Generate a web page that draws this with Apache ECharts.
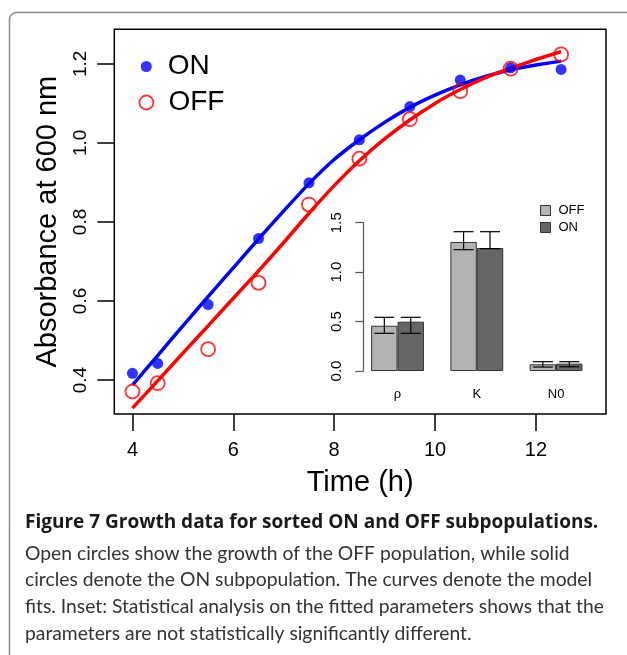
<!DOCTYPE html>
<html>
<head>
<meta charset="utf-8">
<script src="https://cdn.jsdelivr.net/npm/echarts@6/dist/echarts.min.js"></script>
<style>
  html, body { margin: 0; padding: 0; background: #fff; }
  #chart { width: 627px; height: 655px; }
</style>
</head>
<body>
<div id="chart"></div>
<script>
// growth data (absorbance at 600 nm)
const timePoints = [4, 4.5, 5.5, 6.5, 7.5, 8.5, 9.5, 10.5, 11.5, 12.5];
const onValues = [0.417, 0.442, 0.591, 0.758, 0.899, 1.008, 1.092, 1.159, 1.190, 1.186];
const offValues = [0.371, 0.392, 0.478, 0.646, 0.844, 0.960, 1.060, 1.131, 1.188, 1.224];

// model fit curves
const fitTimes = [4, 4.5, 5, 5.5, 6, 6.5, 7, 7.5, 8, 8.5, 9, 9.5, 10, 10.5, 11, 11.5, 12, 12.5];
const onFit = [0.387, 0.462, 0.537, 0.611, 0.684, 0.757, 0.828, 0.897, 0.958, 1.008, 1.052, 1.090, 1.121, 1.147, 1.168, 1.185, 1.197, 1.207];
const offFit = [0.329, 0.398, 0.468, 0.537, 0.607, 0.676, 0.748, 0.822, 0.892, 0.955, 1.010, 1.058, 1.100, 1.135, 1.165, 1.189, 1.211, 1.231];

const xTicks = [4, 6, 8, 10, 12];
const yTicks = [0.4, 0.6, 0.8, 1.0, 1.2];

// inset: fitted parameters
const params = ['ρ', 'K', 'N0'];
const offParam = [0.458, 1.305, 0.068];
const onParam = [0.499, 1.244, 0.074];
const offLow = [0.381, 1.227, 0.040];
const offHigh = [0.543, 1.409, 0.094];
const onLow = [0.381, 1.237, 0.043];
const onHigh = [0.543, 1.409, 0.094];

const captionTitle = 'Figure 7 Growth data for sorted ON and OFF subpopulations.';
const captionLines = [
  'Open circles show the growth of the OFF population, while solid',
  'circles denote the ON subpopulation. The curves denote the model',
  'fits. Inset: Statistical analysis on the fitted parameters shows that the',
  'parameters are not statistically significantly different.'
];

const FONT = 'Liberation Sans, Arial, sans-serif';
const chart = echarts.init(document.getElementById('chart'));

const errorBar = (shift) => (params, api) => {
  const c = api.value(0);
  const lo = api.coord([c, api.value(1)]);
  const hi = api.coord([c, api.value(2)]);
  const band = api.size([1, 0])[0];
  const x = lo[0] + shift * band / 6;
  const w = 10;
  const style = {stroke: '#000', lineWidth: 1.2};
  return {
    type: 'group',
    children: [
      {type: 'line', shape: {x1: x, y1: lo[1], x2: x, y2: hi[1]}, style},
      {type: 'line', shape: {x1: x - w, y1: lo[1], x2: x + w, y2: lo[1]}, style},
      {type: 'line', shape: {x1: x - w, y1: hi[1], x2: x + w, y2: hi[1]}, style},
    ]
  };
};

const graphics = [
  {
    type: 'rect', z: -10, silent: true,
    shape: {x: 9.5, y: 12.5, width: 700, height: 700, r: 7},
    style: {fill: 'none', stroke: '#8c8c8c', lineWidth: 1.5}
  },
  {
    type: 'text', left: 25, top: 513,
    style: {text: captionTitle, font: 'bold 19px "Open Sans", sans-serif', fill: '#1a1a1a'}
  }
];
captionLines.forEach((line, i) => {
  graphics.push({
    type: 'text', left: 25, top: 544 + i * 26.7,
    style: {text: line, font: '19.3px Lato, sans-serif', fill: '#333'}
  });
});

chart.setOption({
  animation: false,
  textStyle: {fontFamily: FONT},
  graphic: graphics,
  grid: [
    {left: 114.3, top: 29.3, right: 21, bottom: 241, show: true, borderColor: '#000', borderWidth: 1.5},
    {left: 357.9, top: 222.7, width: 237.8, height: 148.3}
  ],
  legend: [
    {
      data: [{name: 'ON', icon: 'circle', itemStyle: {color: '#0000ff'}}],
      left: 135.8, top: 46.5, orient: 'vertical',
      itemWidth: 11, itemHeight: 11, selectedMode: false,
      textStyle: {fontSize: 28, color: '#000', padding: [0, 0, 0, 11], lineHeight: 30}
    },
    {
      data: [{name: 'OFF', icon: 'circle', itemStyle: {color: 'rgba(0,0,0,0)', borderColor: '#ff0000', borderWidth: 1.8}}],
      left: 133.5, top: 82.5, orient: 'vertical',
      itemWidth: 14, itemHeight: 14, selectedMode: false,
      textStyle: {fontSize: 28, color: '#000', padding: [0, 0, 0, 10], lineHeight: 30}
    },
    {
      data: [
        {name: 'OFF bars', icon: 'rect', itemStyle: {color: '#b3b3b3', borderColor: '#333', borderWidth: 1}},
        {name: 'ON bars', icon: 'rect', itemStyle: {color: '#666666', borderColor: '#333', borderWidth: 1}}
      ],
      left: 535, top: 198.5, orient: 'vertical',
      itemWidth: 10, itemHeight: 10, itemGap: 3, selectedMode: false,
      formatter: (n) => n.split(' ')[0],
      textStyle: {fontSize: 13, color: '#000', padding: [0, 0, 0, 3], lineHeight: 14}
    }
  ],
  xAxis: [
    {
      type: 'value', gridIndex: 0, min: 3.64, max: 13.39,
      name: 'Time (h)', nameLocation: 'middle', nameGap: 54,
      nameTextStyle: {fontSize: 29, color: '#000'},
      axisLine: {show: false},
      axisTick: {show: true, customValues: xTicks, length: 17, lineStyle: {color: '#000', width: 1.5}},
      axisLabel: {customValues: xTicks, fontSize: 20, color: '#000', margin: 26},
      splitLine: {show: false}
    },
    {
      type: 'category', gridIndex: 1, data: params,
      axisLine: {show: false}, axisTick: {show: false},
      axisLabel: {fontSize: 13, color: '#000', margin: 17}
    }
  ],
  yAxis: [
    {
      type: 'value', gridIndex: 0, min: 0.314, max: 1.2875,
      name: 'Absorbance at 600 nm', nameLocation: 'middle', nameGap: 52, nameRotate: 90,
      nameTextStyle: {fontSize: 29, color: '#000'},
      axisLine: {show: false},
      axisTick: {show: true, customValues: yTicks, length: 17, lineStyle: {color: '#000', width: 1.5}},
      axisLabel: {customValues: yTicks, rotate: 90, fontSize: 19, color: '#000', margin: 24,
        formatter: (v) => v.toFixed(1)},
      splitLine: {show: false}
    },
    {
      type: 'value', gridIndex: 1, min: 0, max: 1.5, interval: 0.5, offset: -5.4,
      axisLine: {show: true, lineStyle: {color: '#555', width: 1.2}},
      axisTick: {show: true, length: 8, lineStyle: {color: '#555', width: 1.2}},
      axisLabel: {rotate: 90, fontSize: 15, color: '#000', margin: 19, formatter: (v) => v.toFixed(1)},
      splitLine: {show: false}
    }
  ],
  series: [
    {
      name: 'ON fit', type: 'line', xAxisIndex: 0, yAxisIndex: 0, smooth: 0.2,
      showSymbol: false,
      lineStyle: {color: '#0000ff', width: 3.5},
      data: fitTimes.map((t, i) => [t, onFit[i]])
    },
    {
      name: 'OFF fit', type: 'line', xAxisIndex: 0, yAxisIndex: 0, smooth: 0.2,
      showSymbol: false,
      lineStyle: {color: '#ff0000', width: 3.5},
      data: fitTimes.map((t, i) => [t, offFit[i]])
    },
    {
      name: 'ON', type: 'scatter', xAxisIndex: 0, yAxisIndex: 0, symbol: 'circle', symbolSize: 11,
      itemStyle: {color: '#0000ff'}, z: 5,
      data: timePoints.map((t, i) => [t, onValues[i]])
    },
    {
      name: 'OFF', type: 'scatter', xAxisIndex: 0, yAxisIndex: 0, symbol: 'circle', symbolSize: 14,
      itemStyle: {color: 'rgba(0,0,0,0)', borderColor: '#ff0000', borderWidth: 1.8}, z: 5,
      data: timePoints.map((t, i) => [t, offValues[i]])
    },
    {
      name: 'OFF bars', type: 'bar', xAxisIndex: 1, yAxisIndex: 1,
      barWidth: '33.33%', barGap: '0%',
      itemStyle: {color: '#b3b3b3', borderColor: '#333', borderWidth: 1},
      data: offParam
    },
    {
      name: 'ON bars', type: 'bar', xAxisIndex: 1, yAxisIndex: 1,
      barWidth: '33.33%', barGap: '0%',
      itemStyle: {color: '#666666', borderColor: '#333', borderWidth: 1},
      data: onParam
    },
    {
      name: 'OFF err', type: 'custom', xAxisIndex: 1, yAxisIndex: 1, z: 5,
      renderItem: errorBar(-1),
      data: params.map((p, i) => [i, offLow[i], offHigh[i]])
    },
    {
      name: 'ON err', type: 'custom', xAxisIndex: 1, yAxisIndex: 1, z: 5,
      renderItem: errorBar(1),
      data: params.map((p, i) => [i, onLow[i], onHigh[i]])
    }
  ]
});
</script>
</body>
</html>
